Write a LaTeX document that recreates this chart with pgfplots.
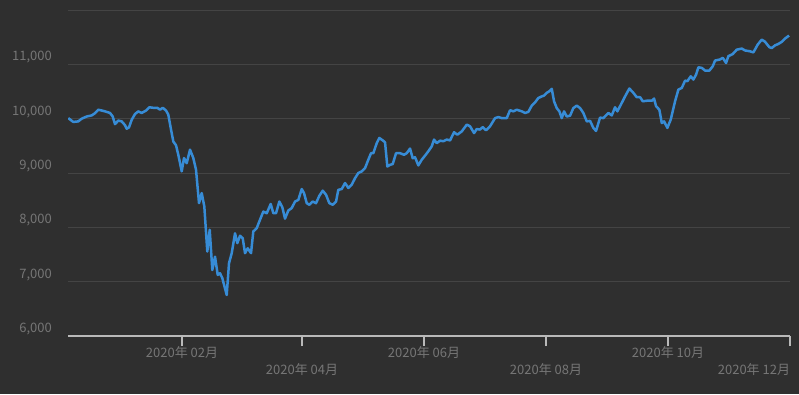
\documentclass[border=0pt]{standalone}
\usepackage{fontspec}
\setmainfont{Noto Sans CJK SC}
\usepackage{pgfplots}
\pgfplotsset{compat=1.18}
\definecolor{bg}{RGB}{47,47,47}
\definecolor{gridc}{RGB}{68,68,68}
\definecolor{axisc}{RGB}{185,185,185}
\definecolor{txt}{RGB}{118,118,118}
\definecolor{linec}{RGB}{55,140,214}
\begin{document}
\begin{tikzpicture}[x=1pt,y=1pt]
\fill[bg] (0,0) rectangle (799,394);
\begin{axis}[
  at={(68pt,58pt)}, anchor=south west,
  width=722pt, height=326pt, scale only axis,
  xmin=-26, xmax=335, ymin=6000, ymax=12000,
  axis x line=bottom, axis y line=left,
  x axis line style={-, draw=axisc, line width=1.5pt},
  y axis line style={draw=none},
  scaled y ticks=false,
  ytick={6000,7000,8000,9000,10000,11000,12000},
  yticklabels={{6,000},{7,000},{8,000},{9,000},{10,000},{11,000},{}},
  ytick style={draw=none},
  ymajorgrids, grid style={draw=gridc, line width=0.9pt},
  xtick={31,152,274},
  xticklabels={{2020年 02月},{2020年 06月},{2020年 10月}},
  extra x ticks={91,213,335},
  extra x tick labels={{2020年 04月},{2020年 08月},{\llap{2020年 12月}}},
  extra x tick style={xticklabel style={yshift=-17pt}},
  xtick align=outside, ytick align=inside, major tick length=10pt,
  xtick style={draw=axisc, line width=1.2pt},
  tick label style={font=\fontsize{13}{15}\selectfont, text=txt},
  xticklabel style={anchor=north, inner sep=0pt, yshift=0pt},
  yticklabel style={anchor=east, inner sep=0pt, xshift=-16pt, yshift=7pt},
  /pgf/number format/assume math mode=true,
]
\addplot[linec, line width=2.5pt, line join=round] coordinates {
(-25.85,10010)(-23.35,9940)(-20.85,9950)(-19.15,10000)(-16.65,10040)(-14.15,10060)
(-12.5,10100)(-10.85,10165)(-9.15,10150)(-7.5,10135)(-5,10105)(-3.65,10040)
(-2.5,9900)(-0.85,9965)(0.85,9950)(2.5,9880)(3.35,9815)(4.5,9840)(5.85,9980)
(7.5,10085)(9.15,10135)(10.85,10105)(13,10150)(14.65,10210)(16.65,10200)
(18.65,10200)(20,10165)(21.35,10200)(23,10150)(24.15,10075)(25.35,9830)
(26.65,9580)(28,9510)(29.15,9335)(30.85,9030)(32,9275)(33.35,9180)(35,9430)
(36.65,9275)(38,9060)(39.5,8445)(40.85,8630)(42.15,8385)(43.65,7555)(44.85,7955)
(46.15,7215)(47.5,7460)(48.85,7125)(50,7155)(51.15,7065)(53.35,6755)(54.5,7340)
(55.85,7525)(57.5,7890)(58.65,7710)(60,7845)(61.35,7800)(62.5,7525)(63.85,7615)
(65.5,7525)(66.65,7925)(68.35,7985)(70,8140)(71.65,8290)(73.35,8260)(75.35,8430)
(76.65,8260)(78,8260)(79.65,8475)(81.15,8370)(82.5,8160)(84.15,8310)(85.85,8355)
(87.5,8475)(89.15,8505)(90.85,8705)(92,8630)(93.35,8445)(94.65,8415)(96.35,8475)
(98,8445)(99.65,8580)(101.35,8675)(103,8600)(104.65,8445)(106.35,8415)(108,8475)
(109.15,8690)(110.85,8705)(112.5,8815)(114.15,8725)(115.85,8785)(117.5,8905)
(119.15,9000)(120.85,9030)(122.5,9090)(124.15,9245)(125.5,9365)(126.65,9365)
(128.35,9550)(129.65,9645)(131.35,9600)(132.5,9565)(133.65,9120)(135,9150)
(136.35,9165)(138,9365)(140,9365)(142,9335)(143.35,9365)(145,9450)(146.35,9270)
(147.5,9290)(149.15,9140)(150.85,9245)(152.5,9320)(154.15,9400)(155.85,9490)
(157,9615)(158.35,9550)(160,9595)(161.65,9585)(163.35,9615)(165,9600)(167,9750)
(168.65,9705)(170.85,9765)(173.35,9890)(175,9860)(177,9735)(178.35,9810)(180,9800)
(181.35,9845)(183,9785)(185,9860)(187.5,10010)(189.15,10030)(190.85,10010)
(193.35,10010)(195,10155)(196.65,10135)(198.35,10165)(200.85,10135)(202.5,10105)
(204.15,10125)(205.85,10240)(207.5,10300)(209.15,10380)(210.85,10410)(212,10425)
(213.35,10475)(214.65,10505)(215.85,10550)(217,10320)(218.35,10195)(219.65,10135)
(220.85,10010)(222,10135)(223.35,10040)(225,10055)(226.65,10195)(228.35,10240)
(230,10195)(231.65,10105)(233.35,9950)(235,9960)(236.65,9830)(238,9775)(240,10020)
(241.65,10010)(244.15,10105)(245.85,10060)(247.5,10210)(248.65,10135)(250.85,10290)
(252.5,10410)(254.65,10555)(256.65,10475)(258.35,10395)(260,10395)(261.35,10320)
(263.35,10330)(265.85,10330)(267,10370)(268,10230)(269.65,10165)(270.85,9920)
(272,9950)(273.65,9830)(275.35,9985)(277.5,10320)(279.15,10535)(280.85,10565)
(282.5,10700)(283.65,10690)(285.35,10780)(286.65,10720)(288,10810)(289.15,10945)
(290.85,10935)(292.5,10885)(294.65,10885)(296.35,10965)(297.5,11070)(300,11090)
(301.35,11120)(303,11025)(304.15,11150)(306.35,11190)(308.35,11270)(310.85,11290)
(312.5,11255)(315,11240)(316.65,11220)(318.85,11365)(320.85,11455)(322.5,11415)
(324.65,11315)(325.85,11300)(327.5,11350)(329.15,11375)(330.85,11415)(332.5,11475)
(334.5,11530)
};
\end{axis}
\end{tikzpicture}
\end{document}
